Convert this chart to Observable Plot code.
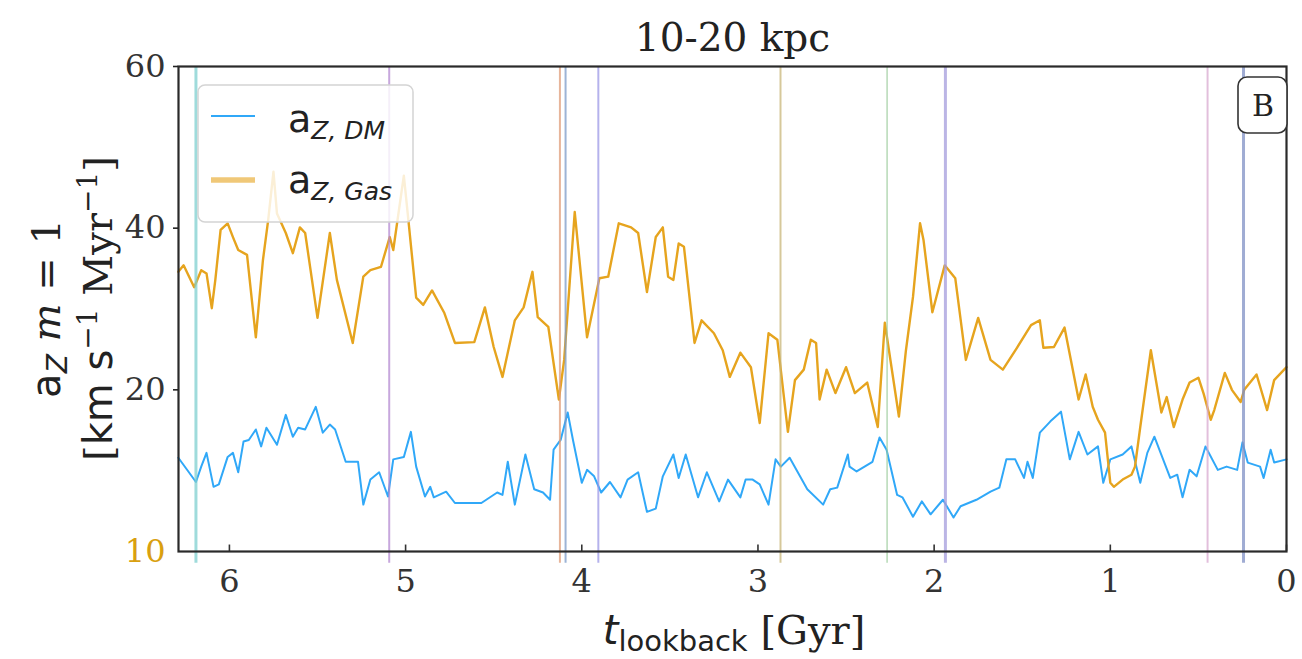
<!DOCTYPE html>
<html><head><meta charset="utf-8">
<script src="https://cdn.jsdelivr.net/npm/d3@7"></script>
<script src="https://cdn.jsdelivr.net/npm/@observablehq/plot@0.6"></script>
<style>body{margin:0;background:#fff;} svg{display:block;}</style>
</head><body><div id="chart"></div>
<script>
// ---- data ----
const gasSeries = [[6.29,34.6],[6.26,35.4],[6.20,32.7],[6.16,34.8],[6.13,34.4],[6.10,30.1],[6.08,33.6],[6.05,39.8],[6.01,40.6],[5.98,38.9],[5.95,37.3],[5.90,36.7],[5.85,26.5],[5.81,36],[5.78,41],[5.75,47],[5.73,41.8],[5.68,39.4],[5.64,36.9],[5.60,40.1],[5.57,39.4],[5.50,28.9],[5.43,39.4],[5.39,33.6],[5.30,25.8],[5.24,34],[5.20,34.8],[5.14,35.2],[5.09,38.9],[5.07,37.3],[5.01,46.5],[4.98,40.1],[4.94,31.4],[4.90,30.5],[4.85,32.3],[4.78,29.5],[4.72,25.8],[4.61,25.9],[4.55,30.2],[4.50,25.3],[4.45,21.6],[4.38,28.6],[4.33,30.2],[4.28,34.6],[4.25,29],[4.19,27.8],[4.13,18.8],[4.10,23.7],[4.04,42],[3.97,26.5],[3.90,33.8],[3.85,34],[3.79,40.6],[3.72,40.1],[3.68,39.4],[3.63,32.1],[3.58,38.9],[3.54,40.1],[3.51,34],[3.48,33.6],[3.45,38.1],[3.42,37.7],[3.36,25.8],[3.32,28.6],[3.25,27],[3.20,24.9],[3.16,21.6],[3.10,24.6],[3.04,22.8],[2.99,15.9],[2.94,27],[2.89,26.2],[2.83,14.8],[2.79,21.2],[2.74,22.5],[2.70,26.2],[2.67,25.8],[2.65,18.8],[2.61,22.5],[2.56,19.6],[2.50,22.8],[2.45,19.6],[2.38,20.9],[2.32,15.4],[2.28,28.3],[2.20,16.7],[2.16,24.9],[2.12,31.5],[2.08,40.6],[2.06,38.5],[2.01,29.6],[1.94,35.4],[1.88,33.8],[1.82,23.7],[1.75,28.9],[1.68,23.7],[1.61,22.5],[1.53,25.2],[1.45,28],[1.40,28.6],[1.38,25.2],[1.32,25.3],[1.26,27.7],[1.18,18.8],[1.14,21.9],[1.10,17.9],[1.07,16.3],[1.03,14.7],[1.00,8.5],[0.98,8],[0.93,8.9],[0.88,9.5],[0.86,10.5],[0.83,15.4],[0.77,24.9],[0.71,17.2],[0.68,19.1],[0.64,15.4],[0.59,18.8],[0.55,20.9],[0.50,21.5],[0.47,19.5],[0.43,16.3],[0.41,17.5],[0.35,22.1],[0.31,20],[0.26,18.5],[0.24,20],[0.17,21.9],[0.11,17.5],[0.07,21.2],[0.00,22.8]];

const dmSeries = [[6.29,11.6],[6.23,9.8],[6.19,8.6],[6.16,10.5],[6.13,12.2],[6.09,8],[6.06,8.3],[6.01,11.7],[5.98,12.2],[5.95,9.8],[5.92,13.6],[5.89,13.8],[5.85,15.1],[5.82,13],[5.79,15.3],[5.73,13.2],[5.68,16.9],[5.64,14.2],[5.61,15.3],[5.57,15.1],[5.51,17.9],[5.47,14.7],[5.43,15.7],[5.40,15.1],[5.34,11.1],[5.27,11.1],[5.24,5.8],[5.20,8.9],[5.15,9.8],[5.10,6.8],[5.07,11.4],[5.01,11.7],[4.97,14.8],[4.94,10.5],[4.89,6.8],[4.86,8],[4.84,6.7],[4.77,7.4],[4.72,6],[4.57,6],[4.48,7.3],[4.45,7],[4.42,11.1],[4.38,5.8],[4.32,12],[4.27,7.7],[4.22,7.3],[4.18,6.4],[4.16,12.6],[4.12,13.8],[4.08,17.2],[4.05,13.8],[4.00,8.5],[3.97,10.1],[3.93,9.3],[3.89,7.3],[3.84,8.6],[3.78,6.7],[3.74,8.9],[3.68,9.8],[3.63,4.9],[3.58,5.3],[3.54,9.3],[3.48,12],[3.45,9.1],[3.41,12],[3.34,6.7],[3.29,9.8],[3.22,6.2],[3.17,8.9],[3.10,6.7],[3.07,8.9],[3.03,8.9],[2.99,8.3],[2.94,5.8],[2.90,11.4],[2.87,10.5],[2.82,11.6],[2.72,7.7],[2.63,5.8],[2.59,7.7],[2.55,7.9],[2.49,12],[2.48,10.5],[2.44,9.9],[2.35,11.1],[2.31,14.1],[2.27,12.6],[2.21,7],[2.18,6.7],[2.12,4.3],[2.07,6.2],[2.02,4.6],[1.95,6.4],[1.89,4.2],[1.85,5.6],[1.76,6.4],[1.68,7.4],[1.63,7.9],[1.59,11.4],[1.54,11.4],[1.49,9.1],[1.47,11.1],[1.44,9.1],[1.40,14.7],[1.34,16.1],[1.28,17.3],[1.23,11.4],[1.18,14.8],[1.13,12],[1.07,13],[1.04,8.5],[1.00,11.4],[0.93,12],[0.88,13],[0.83,8.5],[0.79,12.2],[0.75,14.2],[0.66,9.1],[0.62,9.5],[0.59,6.7],[0.55,10.1],[0.51,9.3],[0.46,13],[0.39,10.1],[0.34,10.5],[0.28,10.1],[0.25,13.5],[0.22,11],[0.15,10.5],[0.13,9.1],[0.09,12.6],[0.07,11],[0.00,11.4]];

const eventTimes  = [6.19, 5.093, 4.124, 4.092, 3.906, 2.872, 2.267, 1.936, 0.448, 0.244];
const eventColors = ["#7fcfcf", "#b48ad2", "#df9c78", "#7b9bc8", "#9c98e6", "#c8b678", "#9ccc9c", "#a49cdc", "#d8aad0", "#8090c4"];
const eventWidths = [3, 2, 2, 2, 2, 2, 1.5, 3, 2, 3];

const xTicks = [6, 5, 4, 3, 2, 1, 0];
const yTicks = [20, 40, 60];
const xDomain = [6.289, 0];
const yDomain = [0, 60];
const twinTickLabel = "10";

const gasColor = "#e6a41e";
const dmColor = "#30a8f8";

// ---- tables ----
const gas = gasSeries.map(([t, v]) => ({t, v}));
const dm = dmSeries.map(([t, v]) => ({t, v}));
const events = eventTimes.map((t, i) => ({t, c: eventColors[i], w: eventWidths[i]}));

const plot = Plot.plot({
  width: 1302,
  height: 659,
  marginLeft: 178,
  marginRight: 16,
  marginTop: 66,
  marginBottom: 108,
  x: {domain: xDomain},
  y: {domain: yDomain},
  style: {fontFamily: "DejaVu Serif", fontSize: "32px", color: "#222", background: "#fff"},
  marks: [
    Plot.line(dm, {x: "t", y: "v", stroke: dmColor, strokeWidth: 2}),
    Plot.line(gas, {x: "t", y: "v", stroke: gasColor, strokeWidth: 2.4}),
    Plot.ruleX(events, {x: "t", y1: -1.45, y2: 60, stroke: "c", strokeWidth: "w", strokeOpacity: 0.75}),
    Plot.ruleX(xTicks, {x: d => d, y1: 0, y2: 0.8, stroke: "#333", strokeWidth: 1.6}),
    Plot.frame({stroke: "#2a2a2a", strokeWidth: 2.2}),
    Plot.axisX(xTicks, {tickSize: 0, tickPadding: 18, label: null, fill: "#333", tickFormat: d => String(d)}),
    Plot.axisY(yTicks, {tickSize: 5, tickPadding: 8, label: null, strokeWidth: 1.6, fill: "#333", tickFormat: d => String(d)}),
    Plot.text([twinTickLabel], {frameAnchor: "bottom-left", dx: -13, text: d => d, textAnchor: "end", lineAnchor: "middle", fill: "#d9a010", fontSize: 32}),
    Plot.text(["10-20 kpc"], {frameAnchor: "top", dy: -28, text: d => d, lineAnchor: "middle", fontSize: 39, fill: "#222"})
  ]
});

document.getElementById("chart").appendChild(plot);
const svg = d3.select(plot);
const L = 178, R = 1302 - 16, T = 66, B = 659 - 108;

function rich(x, y, parts, rotate) {
  const t = svg.append("text").attr("x", x).attr("y", y).attr("text-anchor", "middle").attr("fill", "#222");
  if (rotate) t.attr("transform", `rotate(${rotate},${x},${y})`);
  for (const p of parts) {
    const s = t.append("tspan").text(p.t)
      .attr("font-family", p.f || "DejaVu Sans")
      .attr("font-size", p.s)
      .attr("font-style", p.i ? "italic" : "normal");
    if (p.dy) s.attr("dy", p.dy);
  }
  return t;
}

// x label
rich((L + R) / 2 + 2, 644, [
  {t: "t", i: true, s: 40},
  {t: "lookback", s: 29, dy: 7},
  {t: " [Gyr]", f: "DejaVu Serif", s: 40, dy: -7}
]);
// y label, two lines
rich(60, (T + B) / 2, [
  {t: "a", s: 40},
  {t: "Z", i: true, s: 28, dy: 7},
  {t: " ", s: 40, dy: -7},
  {t: "m", i: true, f: "DejaVu Serif", s: 40},
  {t: " = 1", f: "DejaVu Serif", s: 40}
], -90);
rich(112, (T + B) / 2, [
  {t: "[", f: "DejaVu Serif", s: 40},
  {t: "km s", s: 40},
  {t: "\u22121", f: "DejaVu Serif", s: 28, dy: -15},
  {t: " Myr", f: "DejaVu Serif", s: 40, dy: 15},
  {t: "\u22121", f: "DejaVu Serif", s: 28, dy: -15},
  {t: "]", f: "DejaVu Serif", s: 40, dy: 15}
], -90);

// legend
const lg = svg.append("g");
lg.append("rect").attr("x", L + 20).attr("y", T + 19).attr("width", 215).attr("height", 137)
  .attr("rx", 7).attr("fill", "#fff").attr("fill-opacity", 0.82).attr("stroke", "#d4d4d4").attr("stroke-width", 1.5);
lg.append("line").attr("x1", L + 33).attr("x2", L + 77).attr("y1", T + 50).attr("y2", T + 50)
  .attr("stroke", dmColor).attr("stroke-width", 2.2);
lg.append("line").attr("x1", L + 33).attr("x2", L + 77).attr("y1", T + 114).attr("y2", T + 114)
  .attr("stroke", gasColor).attr("stroke-opacity", 0.6).attr("stroke-width", 5.5);
function legText(y, sub) {
  const t = lg.append("text").attr("x", L + 110).attr("y", y).attr("fill", "#222").attr("text-anchor", "start");
  t.append("tspan").text("a").attr("font-family", "DejaVu Sans").attr("font-size", 38);
  t.append("tspan").text(sub).attr("font-family", "DejaVu Sans").attr("font-style", "italic").attr("font-size", 25).attr("dy", 7);
}
legText(T + 66, "Z, DM");
legText(T + 127, "Z, Gas");

// panel letter
svg.append("rect").attr("x", R - 48).attr("y", T + 11).attr("width", 49).attr("height", 56)
  .attr("rx", 9).attr("fill", "#fff").attr("stroke", "#333").attr("stroke-width", 1.6);
svg.append("text").attr("x", R - 23).attr("y", T + 50).attr("text-anchor", "middle")
  .attr("font-family", "DejaVu Serif").attr("font-size", 30).attr("fill", "#222").text("B");
</script>
</body></html>
